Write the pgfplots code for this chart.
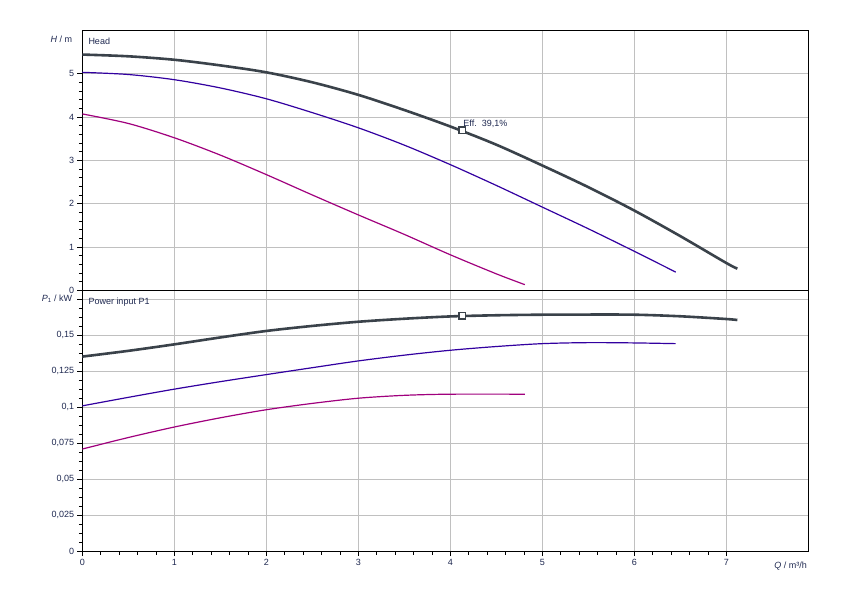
\documentclass[border=0pt]{standalone}
\usepackage{pgfplots}
\pgfplotsset{compat=1.18}
\usepackage{fontspec}
\setmainfont{Liberation Sans}
\definecolor{txt}{RGB}{30,40,80}
\definecolor{crvk}{RGB}{58,66,74}
\definecolor{crvb}{RGB}{50,0,160}
\definecolor{crvp}{RGB}{160,0,125}
\definecolor{grd}{RGB}{192,192,192}
\pgfplotsset{
  pumpaxis/.style={
    x=92pt,
    xmin=0, xmax=7.89,
    xtick={0,1,2,3,4,5,6,7}, minor x tick num=4,
    grid=major, major grid style={grd, line width=0.9pt},
    axis line style={line width=1pt},
    tick align=outside, tick pos=left,
    major tick length=5pt, minor tick length=3.5pt,
    tick style={black, line width=0.8pt},
    ticklabel style={font=\fontsize{9}{10}\selectfont, text=txt},
    /pgf/number format/assume math mode=true,
    clip mode=individual,
    anchor=origin,
  }
}
\begin{document}
\fontsize{9}{10}\selectfont
\begin{tikzpicture}
\path[use as bounding box] (0,0) rectangle (850pt,600pt);

% Head
\begin{axis}[pumpaxis, name=top, at={(82.3pt,309.7pt)},
    y=43.333pt, ymin=0, ymax=6,
    xticklabels={,,,,,,,}, major x tick style={draw=none}, minor x tick style={draw=none},
    ytick={0,1,2,3,4,5}, minor y tick num=4,
    ]
\addplot[crvk, line width=2.6pt, smooth, tension=0.5] coordinates {
  (0,5.44)(0.5,5.40)(1,5.32)(1.5,5.19)(2,5.03)(2.5,4.80)(3,4.51)(3.5,4.16)
  (4,3.78)(4.5,3.36)(5,2.88)(5.5,2.38)(6,1.84)(6.5,1.25)(7,0.63)(7.12,0.50)};
\addplot[crvb, line width=1.2pt, smooth, tension=0.5] coordinates {
  (0,5.03)(0.5,4.98)(1,4.86)(1.5,4.67)(2,4.42)(2.5,4.10)(3,3.75)(3.5,3.35)
  (4,2.90)(4.5,2.42)(5,1.92)(5.5,1.42)(6,0.90)(6.45,0.42)};
\addplot[crvp, line width=1.2pt, smooth, tension=0.5] coordinates {
  (0,4.07)(0.5,3.85)(1,3.52)(1.5,3.12)(2,2.67)(2.5,2.20)(3,1.74)(3.5,1.29)
  (4,0.82)(4.5,0.38)(4.81,0.13)};
\addplot[crvk, line width=1.5pt, only marks, mark=square*, mark size=3.2pt,
  mark options={fill=white}] coordinates {(4.13,3.69)};
\node[anchor=north west, text=txt, inner sep=0pt] at (rel axis cs:0,1) [xshift=6pt, yshift=-7pt] {Head};
\node[anchor=south west, text=txt, inner sep=0pt] at (axis cs:4.13,3.69) [xshift=1pt, yshift=3pt] {Eff.\ \ 39,1\%};
\node[anchor=east, text=txt, inner sep=0pt] at (axis cs:0,5.8) [xshift=-10pt] {\textit{H} / m};
\end{axis}

% Power input
\begin{axis}[pumpaxis, name=bot, at={(82.3pt,49pt)},
    y=1440pt, ymin=0, ymax=0.181,
    xticklabels={0,1,2,3,4,5,6,7},
    ytick={0,0.025,0.05,0.075,0.1,0.125,0.15,0.175}, minor y tick num=3,
    yticklabels={0,{0,025},{0,05},{0,075},{0,1},{0,125},{0,15},{}},
    ]
\addplot[crvk, line width=2.6pt, smooth, tension=0.5] coordinates {
  (0,0.1350)(0.5,0.1390)(1,0.1435)(1.5,0.1483)(2,0.1528)(2.5,0.1563)(3,0.1592)(3.5,0.1613)
  (4,0.1629)(4.5,0.1637)(5,0.1641)(5.5,0.1642)(6,0.1641)(6.5,0.1630)(7,0.1611)(7.12,0.1604)};
\addplot[crvb, line width=1.2pt, smooth, tension=0.5] coordinates {
  (0,0.1008)(0.5,0.1067)(1,0.1124)(1.5,0.1176)(2,0.1225)(2.5,0.1273)(3,0.1320)(3.5,0.1360)
  (4,0.1394)(4.5,0.1420)(5,0.1440)(5.5,0.1447)(6,0.1445)(6.45,0.1440)};
\addplot[crvp, line width=1.2pt, smooth, tension=0.5] coordinates {
  (0,0.0708)(0.5,0.0788)(1,0.0861)(1.5,0.0925)(2,0.0981)(2.5,0.1025)(3,0.1061)(3.5,0.1081)
  (4,0.1089)(4.81,0.1089)};
\addplot[crvk, line width=1.5pt, only marks, mark=square*, mark size=3.2pt,
  mark options={fill=white}] coordinates {(4.13,0.1634)};
\node[anchor=north west, text=txt, inner sep=0pt] at (rel axis cs:0,1) [xshift=6pt, yshift=-7pt] {Power input P1};
\node[anchor=east, text=txt, inner sep=0pt] at (axis cs:0,0.175) [xshift=-10pt] {\textit{P}\textsubscript{1} / kW};
\node[anchor=east, text=txt, inner sep=0pt] at (rel axis cs:1,0) [xshift=-1pt, yshift=-15pt] {\textit{Q} / m³/h};
\end{axis}
\end{tikzpicture}
\end{document}
